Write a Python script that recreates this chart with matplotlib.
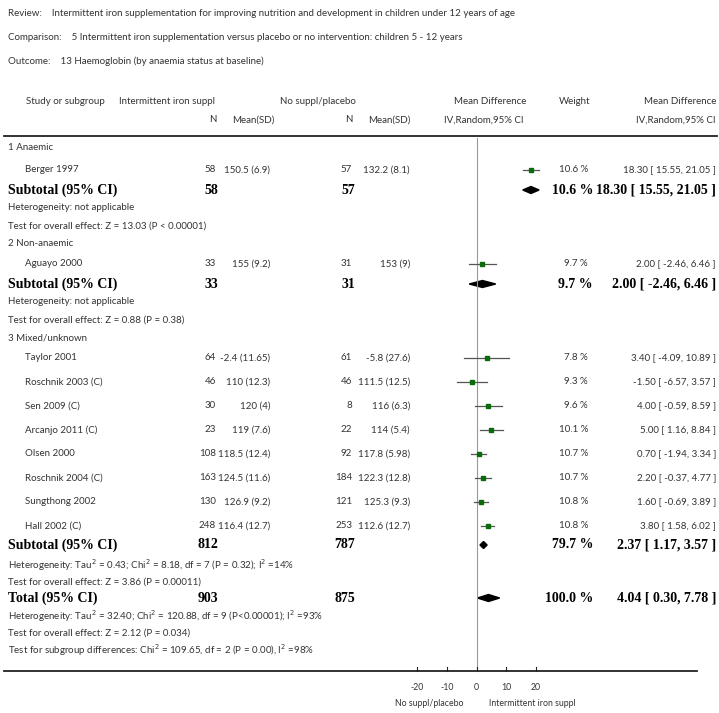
import numpy as np
import matplotlib.pyplot as plt
from matplotlib.patches import Polygon

# study data
studies = ["Berger 1997", "Aguayo 2000", "Taylor 2001", "Roschnik 2003 (C)", "Sen 2009 (C)",
           "Arcanjo 2011 (C)", "Olsen 2000", "Roschnik 2004 (C)", "Sungthong 2002", "Hall 2002 (C)"]
n1 = [58, 33, 64, 46, 30, 23, 108, 163, 130, 248]
mean1 = ["150.5 (6.9)", "155 (9.2)", "-2.4 (11.65)", "110 (12.3)", "120 (4)",
         "119 (7.6)", "118.5 (12.4)", "124.5 (11.6)", "126.9 (9.2)", "116.4 (12.7)"]
n2 = [57, 31, 61, 46, 8, 22, 92, 184, 121, 253]
mean2 = ["132.2 (8.1)", "153 (9)", "-5.8 (27.6)", "111.5 (12.5)", "116 (6.3)",
         "114 (5.4)", "117.8 (5.98)", "122.3 (12.8)", "125.3 (9.3)", "112.6 (12.7)"]
md = [18.30, 2.00, 3.40, -1.50, 4.00, 5.00, 0.70, 2.20, 1.60, 3.80]
lo = [15.55, -2.46, -4.09, -6.57, -0.59, 1.16, -1.94, -0.37, -0.69, 1.58]
hi = [21.05, 6.46, 10.89, 3.57, 8.59, 8.84, 3.34, 4.77, 3.89, 6.02]
weight = [10.6, 9.7, 7.8, 9.3, 9.6, 10.1, 10.7, 10.7, 10.8, 10.8]

# pooled rows: label, N1, N2, weight, md, lo, hi
pooled_lab = ["Subtotal (95% CI)", "Subtotal (95% CI)", "Subtotal (95% CI)", "Total (95% CI)"]
pooled_n1 = [58, 33, 812, 903]
pooled_n2 = [57, 31, 787, 875]
pooled_w = [10.6, 9.7, 79.7, 100.0]
pooled_md = [18.30, 2.00, 2.37, 4.04]
pooled_lo = [15.55, -2.46, 1.17, 0.30]
pooled_hi = [21.05, 6.46, 3.57, 7.78]

ticks = [-20, -10, 0, 10, 20]

FONT = "Lato"
BOLD = "Liberation Serif"
fs = 7
tc = "#333333"

# row y positions in pixels
study_y = [170, 264, 358, 382, 406, 430, 454, 478, 502, 526]
pooled_y = [190, 284, 545, 598]

fig = plt.figure(figsize=(7.19, 7.13), dpi=100)
ax = fig.add_axes([0, 0, 1, 1])
ax.set_xlim(0, 719)
ax.set_ylim(713, 0)
ax.axis("off")


def t(x, y, s, ha="left", bold=False, size=None):
    if bold:
        ax.text(x, y, s, ha=ha, va="center", fontfamily=BOLD, fontweight="bold",
                fontsize=size or 10, color="black")
    else:
        ax.text(x, y, s, ha=ha, va="center", fontfamily=FONT, fontsize=size or fs, color=tc)


t(8, 13, "Review:    Intermittent iron supplementation for improving nutrition and development in children under 12 years of age")
t(8, 37, "Comparison:    5 Intermittent iron supplementation versus placebo or no intervention: children 5 - 12 years")
t(8, 61, "Outcome:    13 Haemoglobin (by anaemia status at baseline)")

t(26, 101, "Study or subgroup")
t(119, 101, "Intermittent iron suppl")
t(280, 101, "No suppl/placebo")
t(526, 101, "Mean Difference", ha="right")
t(590, 101, "Weight", ha="right")
t(716, 101, "Mean Difference", ha="right")
t(216, 120, "N", ha="right")
t(232, 120, "Mean(SD)")
t(353, 120, "N", ha="right")
t(368, 120, "Mean(SD)")
t(523, 120, "IV,Random,95% CI", ha="right")
t(716, 120, "IV,Random,95% CI", ha="right")
ax.plot([4, 717], [136, 136], color="#222222", lw=1.3)

# subgroup headings and notes
t(8, 148, "1 Anaemic")
t(8, 208, "Heterogeneity: not applicable")
t(8, 226, "Test for overall effect: Z = 13.03 (P < 0.00001)")
t(8, 244, "2 Non-anaemic")
t(8, 302, "Heterogeneity: not applicable")
t(8, 320, "Test for overall effect: Z = 0.88 (P = 0.38)")
t(8, 338, "3 Mixed/unknown")
t(8, 565, "Heterogeneity: Tau$^2$ = 0.43; Chi$^2$ = 8.18, df = 7 (P = 0.32); I$^2$ =14%")
t(8, 582, "Test for overall effect: Z = 3.86 (P = 0.00011)")
t(8, 616, "Heterogeneity: Tau$^2$ = 32.40; Chi$^2$ = 120.88, df = 9 (P<0.00001); I$^2$ =93%")
t(8, 633, "Test for overall effect: Z = 2.12 (P = 0.034)")
t(8, 650, "Test for subgroup differences: Chi$^2$ = 109.65, df = 2 (P = 0.00), I$^2$ =98%")

for i, y in enumerate(study_y):
    t(25, y, studies[i])
    t(216, y, str(n1[i]), ha="right")
    t(270, y, mean1[i], ha="right")
    t(352, y, str(n2[i]), ha="right")
    t(410, y, mean2[i], ha="right")
    t(588, y, f"{weight[i]:.1f} %", ha="right")
    t(716, y, f"{md[i]:.2f} [ {lo[i]:.2f}, {hi[i]:.2f} ]", ha="right")

for i, y in enumerate(pooled_y):
    t(8, y, pooled_lab[i], bold=True)
    t(218, y, str(pooled_n1[i]), ha="right", bold=True)
    t(355, y, str(pooled_n2[i]), ha="right", bold=True)
    t(593, y, f"{pooled_w[i]:.1f} %", ha="right", bold=True)
    t(716, y, f"{pooled_md[i]:.2f} [ {pooled_lo[i]:.2f}, {pooled_hi[i]:.2f} ]", ha="right", bold=True)

# bottom axis line
ax.plot([4, 697], [671, 671], color="#222222", lw=1.3)
t(429, 704, "No suppl/placebo", ha="center", size=6.3)
t(532, 704, "Intermittent iron suppl", ha="center", size=6.3)

# forest panel: x from -20 to 20 maps to pixels 417..536
fax = fig.add_axes([417 / 719, 0, (536 - 417) / 719, 1])
fax.set_xlim(-20, 20)
fax.set_ylim(713, 0)
fax.patch.set_alpha(0)
for s in ["top", "right", "left", "bottom"]:
    fax.spines[s].set_visible(False)
fax.set_yticks([])
fax.set_xticks([])

fax.plot([0, 0], [138, 671], color="#999999", lw=0.8)
for x in ticks:
    fax.plot([x, x], [667, 671], color="#222222", lw=0.8, clip_on=False)
    fax.text(x, 687, str(x), ha="center", va="center", fontfamily=FONT, fontsize=6.3, color=tc)

for i, y in enumerate(study_y):
    fax.plot([lo[i], hi[i]], [y, y], color="#555555", lw=0.9, clip_on=False)
    fax.plot(md[i], y, marker="s", ms=weight[i] * 0.33, color="#0a6b0a", clip_on=False)

for i, y in enumerate(pooled_y):
    d = Polygon([[pooled_lo[i], y], [pooled_md[i], y - 3.5], [pooled_hi[i], y], [pooled_md[i], y + 3.5]],
                closed=True, color="black", clip_on=False)
    fax.add_patch(d)

fig.savefig("out.png", dpi=100)
